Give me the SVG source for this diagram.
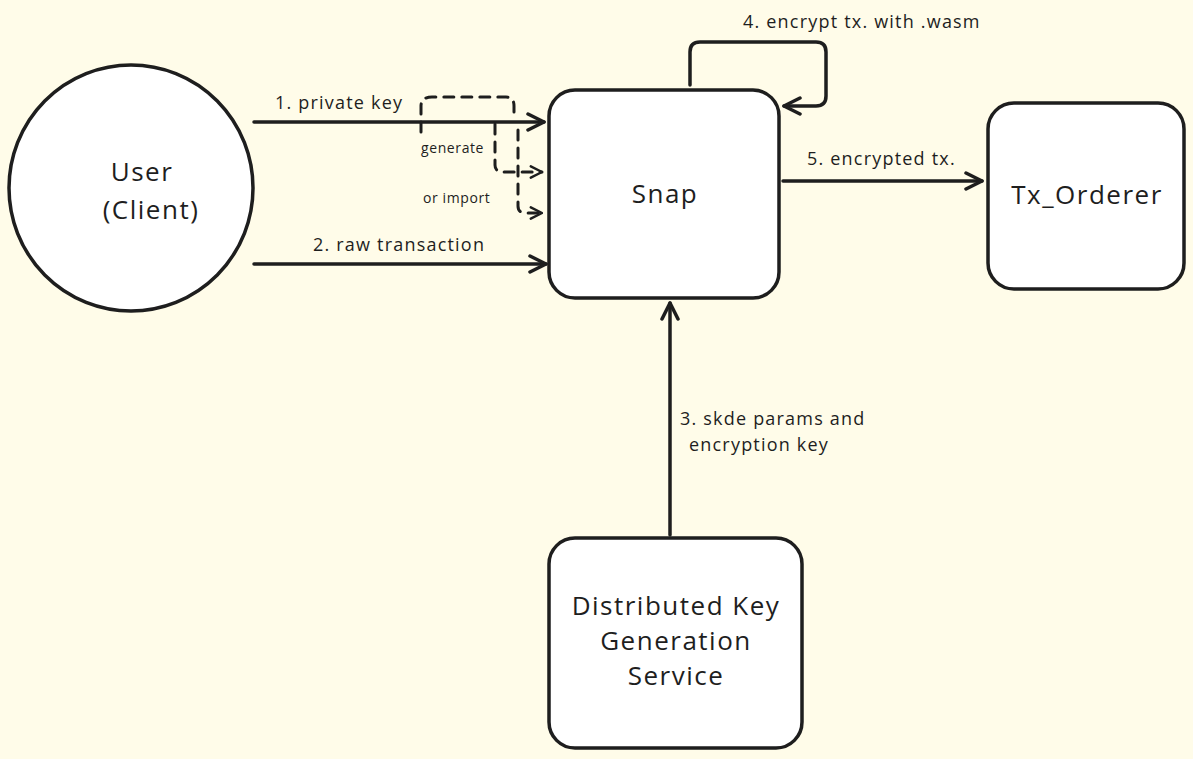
<svg xmlns="http://www.w3.org/2000/svg" width="1193" height="759" viewBox="0 0 1193 759">
<defs>
<style>
.n{fill:#ffffff;stroke:#1e1e1e;stroke-width:3.5}
.c{fill:none;stroke:#1e1e1e;stroke-width:3.5;stroke-linecap:round;stroke-linejoin:round}
.d{fill:none;stroke:#1e1e1e;stroke-width:3;stroke-dasharray:10 8;stroke-linecap:round;stroke-linejoin:round}
.t{font-family:"Open Sans","Liberation Sans",sans-serif;fill:#1e1e1e}
.big{font-size:26px;letter-spacing:1.5px;text-anchor:middle}
.lbl{font-size:18px;letter-spacing:1.2px}
.sm{font-size:14px;letter-spacing:0.6px}
</style>
<marker id="ah" viewBox="0 0 20 20" refX="18" refY="10" markerWidth="20" markerHeight="20" markerUnits="userSpaceOnUse" orient="auto">
<path d="M2 2 L18 10 L2 18" fill="none" stroke="#1e1e1e" stroke-width="3.5" stroke-linecap="round" stroke-linejoin="round"/>
</marker>
<marker id="ahs" viewBox="0 0 20 20" refX="18" refY="10" markerWidth="14" markerHeight="14" markerUnits="userSpaceOnUse" orient="auto">
<path d="M2 2 L18 10 L2 18" fill="none" stroke="#1e1e1e" stroke-width="3.5" stroke-linecap="round" stroke-linejoin="round"/>
</marker>
</defs>
<rect width="1193" height="759" fill="#fffce9"/>
<g id="connectors">
<path class="c" d="M254 122 L544 122" marker-end="url(#ah)"/>
<path class="c" d="M254 264 L546 264" marker-end="url(#ah)"/>
<path class="d" d="M421 132 L421 106 Q421 97 432 97 L506 97 Q514 97 514 106 L514 118"/>
<path class="d" d="M495 124 L495 165 Q495 172 503 172 L542 172" marker-end="url(#ahs)"/>
<path class="d" d="M518 130 L518 206 Q518 213 526 213 L542 213" marker-end="url(#ahs)"/>
<path class="c" d="M690 85 L690 52 Q690 42 700 42 L816 42 Q826 42 826 52 L826 96 Q826 106 816 106 L784 106" marker-end="url(#ah)"/>
<path class="c" d="M783 181 L982 181" marker-end="url(#ah)"/>
<path class="c" d="M670 535 L670 303" marker-end="url(#ah)"/>
</g>
<g id="user"><ellipse class="n" cx="131" cy="188" rx="122" ry="123"/>
<text class="t big" x="142" y="181">User</text><text class="t big" x="151" y="219">(Client)</text></g>
<g id="snap"><rect class="n" x="549" y="90" width="230" height="208" rx="26"/>
<text class="t big" x="665" y="203">Snap</text></g>
<g id="tx_orderer"><rect class="n" x="988" y="103" width="196" height="186" rx="26"/>
<text class="t big" x="1087" y="204">Tx_Orderer</text></g>
<g id="dkg"><rect class="n" x="549" y="538" width="253" height="210" rx="26"/>
<text class="t big" x="676" y="615">Distributed Key</text><text class="t big" x="676" y="650">Generation</text><text class="t big" x="676" y="685">Service</text></g>
<g id="labels">
<text class="t lbl" x="275" y="109">1. private key</text>
<text class="t sm" x="421" y="153">generate</text>
<text class="t sm" x="423" y="203">or import</text>
<text class="t lbl" x="313" y="251">2. raw transaction</text>
<text class="t lbl" x="743" y="28">4. encrypt tx. with .wasm</text>
<text class="t lbl" x="807" y="165">5. encrypted tx.</text>
<text class="t lbl" x="680" y="425">3. skde params and</text>
<text class="t lbl" x="689" y="451">encryption key</text>
</g>
</svg>
